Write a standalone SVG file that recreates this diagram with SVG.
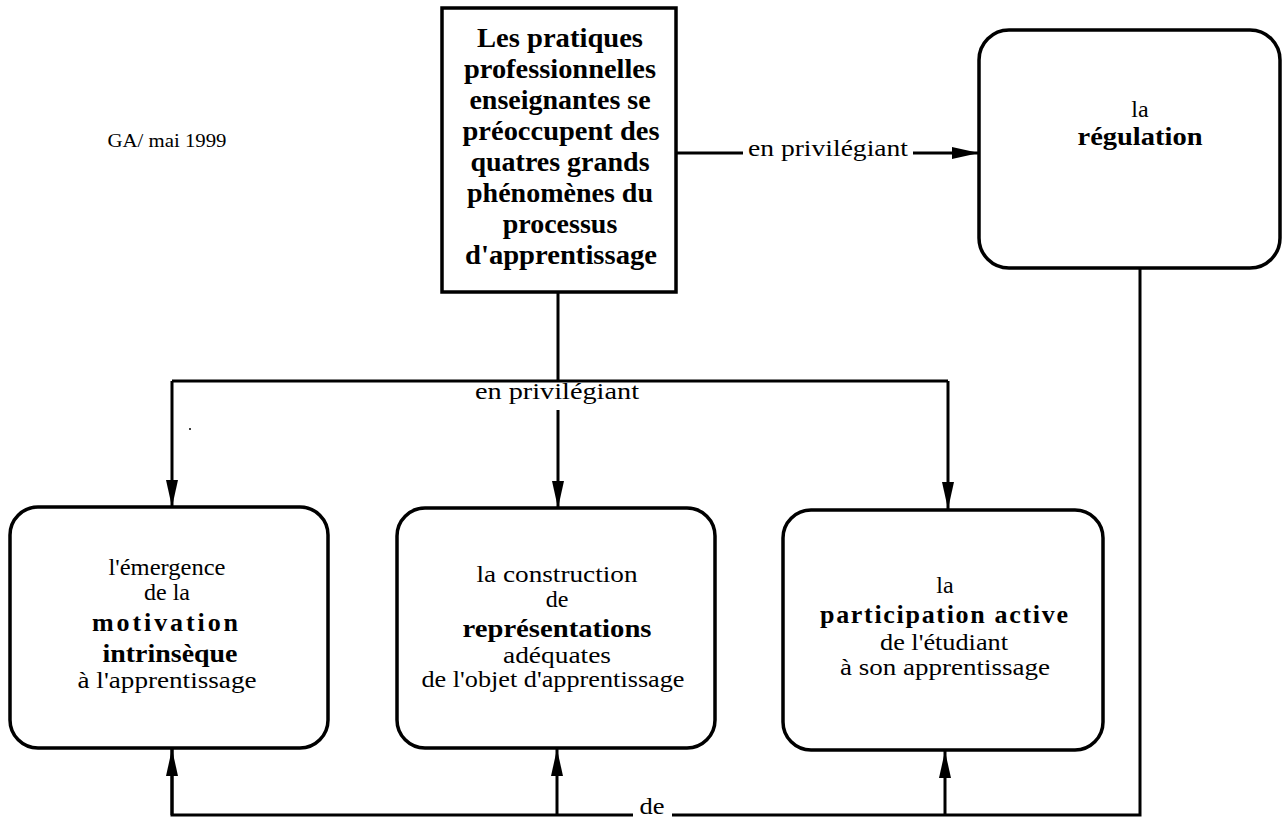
<svg xmlns="http://www.w3.org/2000/svg" width="1283" height="821" viewBox="0 0 1283 821">
<defs>
<style>
.box{fill:#fff;stroke:#000;stroke-width:3.5}
.ln{fill:none;stroke:#000;stroke-width:3}
.t{font-family:"Liberation Serif","DejaVu Serif",serif;font-size:24px;fill:#000;text-anchor:middle}
.b{font-weight:bold;font-size:26px}
.tb{font-family:"Liberation Serif","DejaVu Serif",serif;font-size:28px;font-weight:bold;fill:#000;text-anchor:middle}
</style>
<marker id="ah" viewBox="0 0 27 14" refX="27" refY="7" markerWidth="27" markerHeight="14" markerUnits="userSpaceOnUse" orient="auto">
<path d="M0,1 L27,7 L0,13 z" fill="#000"/>
</marker>
</defs>
<rect width="1283" height="821" fill="#fff"/>
<text x="167" y="147" textLength="119" lengthAdjust="spacingAndGlyphs" style="font-family:'Liberation Serif',serif;font-size:19px;text-anchor:middle">GA/ mai 1999</text>
<circle cx="190" cy="429" r="1" fill="#000"/>
<g id="connectors">
<path class="ln" d="M558,292 V381 M172,381 H948"/>
<path class="ln" d="M172,381 V507" marker-end="url(#ah)"/>
<path class="ln" d="M558,410 V508" marker-end="url(#ah)"/>
<path class="ln" d="M948,381 V509" marker-end="url(#ah)"/>
<path class="ln" d="M676,153 H743"/>
<path class="ln" d="M913,153 H979" marker-end="url(#ah)"/>
<text class="t" x="828" y="156" textLength="160" lengthAdjust="spacingAndGlyphs">en privilégiant</text>
<text class="t" x="557" y="399" textLength="164" lengthAdjust="spacingAndGlyphs">en privilégiant</text>
<path class="ln" d="M1140,268 V815 H672 M633,815 H172 V749"/>
<path class="ln" d="M172,815 V749" marker-end="url(#ah)"/>
<path class="ln" d="M557,815 V749" marker-end="url(#ah)"/>
<path class="ln" d="M945,815 V751" marker-end="url(#ah)"/>
<text class="t" x="652" y="814" textLength="25" lengthAdjust="spacingAndGlyphs">de</text>
</g>
<g id="top">
<rect class="box" x="442" y="8" width="234" height="284"/>
<text class="tb" x="560" y="47" textLength="166" lengthAdjust="spacingAndGlyphs">Les pratiques</text>
<text class="tb" x="560" y="78" textLength="192" lengthAdjust="spacingAndGlyphs">professionnelles</text>
<text class="tb" x="560" y="109">enseignantes se</text>
<text class="tb" x="561" y="140" textLength="197" lengthAdjust="spacingAndGlyphs">préoccupent des</text>
<text class="tb" x="560" y="171">quatres grands</text>
<text class="tb" x="560" y="202">phénomènes du</text>
<text class="tb" x="560" y="233">processus</text>
<text class="tb" x="561" y="264" textLength="192" lengthAdjust="spacingAndGlyphs">d'apprentissage</text>
</g>
<g id="regulation">
<rect class="box" x="979" y="30" width="301" height="238" rx="30"/>
<text class="t" x="1140" y="117">la</text>
<text class="t b" x="1140" y="145" textLength="125" lengthAdjust="spacingAndGlyphs">régulation</text>
</g>
<g id="motivation">
<rect class="box" x="10" y="507" width="318" height="241" rx="28"/>
<text class="t" x="167" y="575" textLength="117" lengthAdjust="spacingAndGlyphs">l'émergence</text>
<text class="t" x="167" y="600">de la</text>
<text class="t b" x="165" y="631" textLength="146" lengthAdjust="spacing">motivation</text>
<text class="t b" x="170" y="662" textLength="135" lengthAdjust="spacingAndGlyphs">intrinsèque</text>
<text class="t" x="167" y="688" textLength="179" lengthAdjust="spacingAndGlyphs">à l'apprentissage</text>
</g>
<g id="representations">
<rect class="box" x="397" y="508" width="318" height="240" rx="28"/>
<text class="t" x="557" y="582" textLength="161" lengthAdjust="spacingAndGlyphs">la construction</text>
<text class="t" x="557" y="607">de</text>
<text class="t b" x="557" y="637" textLength="189" lengthAdjust="spacingAndGlyphs">représentations</text>
<text class="t" x="557" y="663" textLength="108" lengthAdjust="spacingAndGlyphs">adéquates</text>
<text class="t" x="553" y="687" textLength="263" lengthAdjust="spacingAndGlyphs">de l'objet d'apprentissage</text>
</g>
<g id="participation">
<rect class="box" x="783" y="510" width="320" height="240" rx="28"/>
<text class="t" x="945" y="593">la</text>
<text class="t b" x="944" y="623" textLength="248" lengthAdjust="spacing">participation active</text>
<text class="t" x="944" y="650" textLength="128" lengthAdjust="spacingAndGlyphs">de l'étudiant</text>
<text class="t" x="945" y="675" textLength="210" lengthAdjust="spacingAndGlyphs">à son apprentissage</text>
</g>
</svg>
